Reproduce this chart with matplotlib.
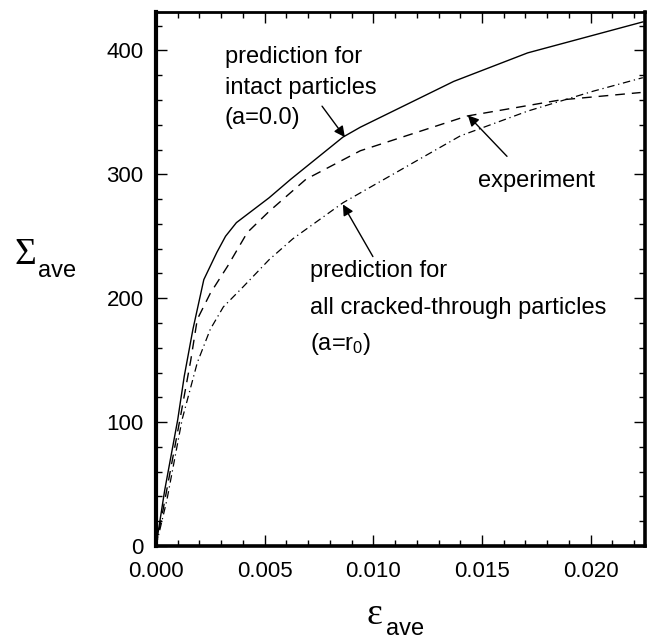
import numpy as np
import matplotlib
matplotlib.use("Agg")
import matplotlib.pyplot as plt
from matplotlib.ticker import MultipleLocator, FormatStrFormatter

# average stress-strain curves of the particle-reinforced composite
eps_intact = [0, 0.0004, 0.0010, 0.0013, 0.0017, 0.0022, 0.0028, 0.0032, 0.0037, 0.0052,
              0.0062, 0.0086, 0.0094, 0.0137, 0.0171, 0.0224]
sig_intact = [0, 45, 102, 137, 175, 215, 237, 250, 261, 281, 296, 330, 338, 375, 398, 423]

eps_exp = [0, 0.0003, 0.0011, 0.0016, 0.0019, 0.0025, 0.0033, 0.0042, 0.0052,
           0.0069, 0.0094, 0.0143, 0.0186, 0.0223]
sig_exp = [0, 27, 102, 150, 183, 204, 226, 253, 270, 296, 319, 347, 360, 366]

eps_cracked = [0, 0.0005, 0.0012, 0.0019, 0.0025, 0.0031, 0.0040, 0.0052, 0.0063,
               0.0086, 0.0094, 0.0140, 0.0171, 0.0201, 0.0224]
sig_cracked = [0, 37, 102, 148, 175, 193, 209, 231, 248, 277, 285, 331, 351, 367, 378]

x_ticks = [0.000, 0.005, 0.010, 0.015, 0.020]
y_ticks = [0, 100, 200, 300, 400]

SANS = ['Liberation Sans', 'DejaVu Sans']
SERIF = ['Liberation Serif', 'DejaVu Serif']
plt.rcParams['font.family'] = SANS
plt.rcParams['mathtext.fontset'] = 'custom'
plt.rcParams['mathtext.rm'] = 'Liberation Sans'
plt.rcParams['mathtext.it'] = 'Liberation Sans'

fig = plt.figure(figsize=(6.51, 6.42), dpi=100)
ax = fig.add_axes([156 / 651, 1 - 546 / 642, 489 / 651, 534 / 642])

ax.plot(eps_intact, sig_intact, color='black', lw=1.0, solid_joinstyle='round')
ax.plot(eps_exp, sig_exp, color='black', lw=1.0, dashes=(7, 5))
ax.plot(eps_cracked, sig_cracked, color='black', lw=0.9, dashes=(6, 3, 1, 3))

ax.set_xlim(0, 0.0225)
ax.set_ylim(0, 431)
ax.set_xticks(x_ticks)
ax.set_yticks(y_ticks)
ax.xaxis.set_major_formatter(FormatStrFormatter('%.3f'))
ax.xaxis.set_minor_locator(MultipleLocator(0.001))
ax.yaxis.set_minor_locator(MultipleLocator(20))
ax.tick_params(which='both', direction='in', top=True, right=True,
               width=1.0, labelsize=16)
ax.tick_params(axis='x', pad=11)
ax.tick_params(axis='y', pad=9)
ax.tick_params(which='major', length=8)
ax.tick_params(which='minor', length=4.5)

ax.spines['left'].set_linewidth(3.0)
ax.spines['bottom'].set_linewidth(2.6)
ax.spines['right'].set_linewidth(2.6)
ax.spines['top'].set_linewidth(2.0)

# annotations
arrow = dict(arrowstyle='-|>', color='black', lw=1.0, mutation_scale=16,
             shrinkA=0, shrinkB=0)
txt = dict(fontsize=17, ha='left', va='baseline')

for s, y in zip(['prediction for', 'intact particles', '(a=0.0)'], [390, 365, 341]):
    ax.text(0.00317, y, s, **txt)
ax.annotate('', xy=(0.00869, 330), xytext=(0.00764, 355), arrowprops=arrow)

ax.text(0.01481, 290, 'experiment', **txt)
ax.annotate('', xy=(0.01435, 347.6), xytext=(0.01615, 314.5), arrowprops=arrow)

for s, y in zip(['prediction for', 'all cracked-through particles', '(a=r$_0$)'],
                [217, 187, 158]):
    ax.text(0.00708, y, s, **txt)
ax.annotate('', xy=(0.0086, 275.7), xytext=(0.00998, 233.6), arrowprops=arrow)

# axis labels
fig.text(14 / 651, 1 - 264 / 642, '\u03a3', fontsize=27, family=SERIF,
         ha='left', va='baseline')
fig.text(38 / 651, 1 - 277 / 642, 'ave', fontsize=17, ha='left', va='baseline')
fig.text(367 / 651, 1 - 624 / 642, '\u03b5', fontsize=27, family=SERIF,
         ha='left', va='baseline')
fig.text(386 / 651, 1 - 635 / 642, 'ave', fontsize=17, ha='left', va='baseline')

fig.savefig('out.png', dpi=100)
